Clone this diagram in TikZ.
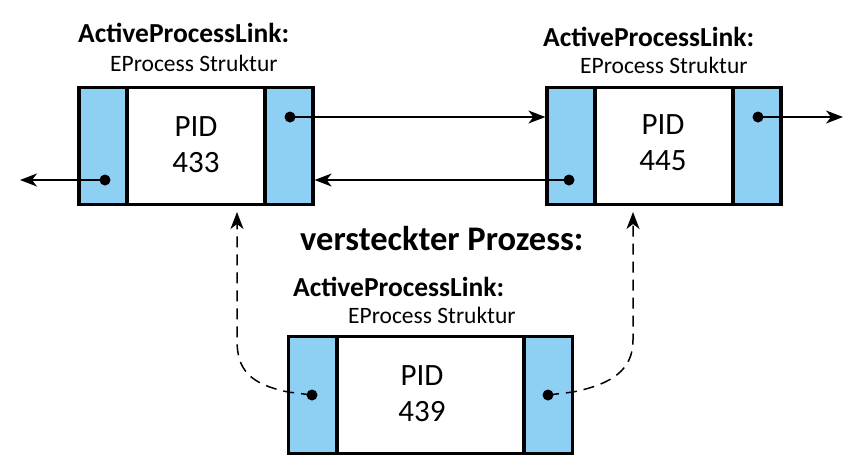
\documentclass[tikz,border=0pt]{standalone}
\usepackage{fontspec}
\setmainfont{Carlito}
\usetikzlibrary{arrows.meta}
\definecolor{cellblue}{RGB}{142,207,244}
\tikzset{
  cell/.style={draw=black, line width=3.2pt, inner sep=0pt, minimum height=117pt},
  side/.style={cell, fill=cellblue, minimum width=48pt},
  mid/.style={cell, fill=white},
  pidtext/.style={font=\fontsize{31}{36}\selectfont, align=center, inner sep=0pt},
  title/.style={font=\fontsize{27.5}{31}\selectfont\bfseries, anchor=base west, inner sep=0pt},
  sub/.style={font=\fontsize{23.5}{27}\selectfont, anchor=base west, inner sep=0pt},
  dot/.style={circle, fill=black, inner sep=0pt, minimum size=11pt},
  link/.style={line width=1.5pt, -{Stealth[length=17pt,width=13pt,inset=5pt]}},
  hidden/.style={line width=1.5pt, dash pattern=on 11pt off 7pt, -{Stealth[length=17pt,width=13pt,inset=5pt]}}
}
\begin{document}
\begin{tikzpicture}[x=1pt,y=-1pt]
\useasboundingbox (0,0) rectangle (856,475);
% box 1
\node[mid, minimum width=138pt] (m1) at (196,146) {};
\node[side] (l1) at (103,146) {};
\node[side] (r1) at (289,146) {};
\node[pidtext] (p1) at (196,145) {PID\\433};
% box 2
\node[mid, minimum width=138pt] (m2) at (664,146) {};
\node[side] (l2) at (571,146) {};
\node[side] (r2) at (757,146) {};
\node[pidtext] (p2) at (663,143) {PID\\445};
% box 3
\node[mid, minimum width=187pt] (m3) at (430.5,395) {};
\node[side] (l3) at (312.5,395) {};
\node[side] (r3) at (548.5,395) {};
\node[pidtext] (p3) at (422,394) {PID\\439};
% labels
\node[title] (t1) at (78,42) {ActiveProcessLink:};
\node[sub] (s1) at (110,71) {EProcess Struktur};
\node[title] (t2) at (543,46) {ActiveProcessLink:};
\node[sub] (s2) at (580,73) {EProcess Struktur};
\node[title, font=\fontsize{34.5}{39}\selectfont\bfseries] (vp) at (300,250) {versteckter Prozess:};
\node[title] (t3) at (293,296) {ActiveProcessLink:};
\node[sub] (s3) at (348,323) {EProcess Struktur};
% dots
\node[dot] (d1r) at (290,117) {};
\node[dot] (d1l) at (105,180) {};
\node[dot] (d2l) at (569,180) {};
\node[dot] (d2r) at (758,117) {};
\node[dot] (d3l) at (312,395) {};
\node[dot] (d3r) at (548,395) {};
% free ends
\coordinate (e1l) at (20,180);
\coordinate (e2r) at (843,117);
\coordinate (u1) at (237,212);
\coordinate (u2) at (633,212);
% links
\draw[link] (d1r.center) -- (l2.west |- d1r);
\draw[link] (d2l.center) -- (r1.east |- d2l);
\draw[link] (d1l.center) -- (e1l);
\draw[link] (d2r.center) -- (e2r);
\draw[hidden] (d3l.center) -- (288,392) .. controls (250,384) and (237,370) .. (237,340) -- (u1);
\draw[hidden] (d3r.center) -- (573,392) .. controls (612,384) and (633,370) .. (633,340) -- (u2);
\end{tikzpicture}
\end{document}
